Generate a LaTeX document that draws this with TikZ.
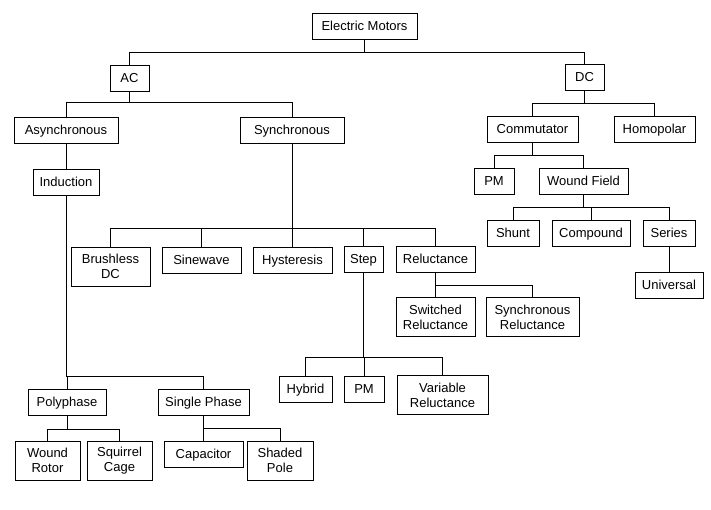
\documentclass[tikz,border=0pt]{standalone}
\usepackage{fontspec}
\setmainfont{Liberation Sans}
\usetikzlibrary{calc}
\tikzset{
  cell/.style={draw, line width=0.9pt, align=center, inner sep=1pt,
    font=\fontsize{13}{15}\selectfont},
  box/.style={cell, minimum height=26pt, text height=9.3pt, text depth=0.6pt},
  tallbox/.style={cell, minimum height=39pt},
  link/.style={line width=0.6pt}
}

\begin{document}
\begin{tikzpicture}[x=1pt, y=-1pt]
\useasboundingbox (0,0) rectangle (711,509);
\node[box, minimum width=105pt] (motors) at (364.5,26) {Electric Motors};
\node[box, minimum width=39pt] (ac) at (129.5,78.5) {AC};
\node[box, minimum width=39pt] (dc) at (584.5,77.5) {DC};
\node[box, minimum width=104pt] (async) at (66,130) {Asynchronous};
\node[box, minimum width=104pt] (sync) at (292,130) {Synchronous};
\node[box, minimum width=66pt] (induct) at (66,182) {Induction};
\node[box, minimum width=91pt] (comm) at (532.5,129.5) {Commutator};
\node[box, minimum width=81pt] (homo) at (654.5,129.5) {Homopolar};
\node[box, minimum width=40pt] (dcpm) at (494,181) {PM};
\node[box, minimum width=89pt] (wfield) at (583.5,181) {Wound Field};
\node[box, minimum width=52pt] (shunt) at (513,233) {Shunt};
\node[box, minimum width=78pt] (compound) at (591,233) {Compound};
\node[box, minimum width=52pt] (series) at (669,233) {Series};
\node[box, minimum width=68pt] (universal) at (669,285) {Universal};
\node[tallbox, minimum width=79pt] (bldc) at (110.5,266.5) {Brushless\\DC};
\node[box, minimum width=79pt] (sinewave) at (201.5,260) {Sinewave};
\node[box, minimum width=79pt] (hyst) at (292.5,260) {Hysteresis};
\node[box, minimum width=39pt] (step) at (363.5,259.5) {Step};
\node[box, minimum width=79pt] (reluct) at (435.5,259) {Reluctance};
\node[tallbox, minimum width=79pt] (swrel) at (435.5,317) {Switched\\Reluctance};
\node[tallbox, minimum width=93pt] (syncrel) at (532.5,317) {Synchronous\\Reluctance};
\node[box, minimum width=53pt] (hybrid) at (305.5,389) {Hybrid};
\node[box, minimum width=40pt] (steppm) at (364,389) {PM};
\node[tallbox, minimum width=91pt] (varrel) at (442.5,395) {Variable\\Reluctance};
\node[box, minimum width=78pt] (poly) at (67,402) {Polyphase};
\node[box, minimum width=91pt] (single) at (203.5,402) {Single Phase};
\node[tallbox, minimum width=65pt] (wrotor) at (47.5,460.5) {Wound\\Rotor};
\node[tallbox, minimum width=65pt] (squirrel) at (119.5,460.5) {Squirrel\\Cage};
\node[box, minimum width=79pt] (capacitor) at (203.5,454) {Capacitor};
\node[tallbox, minimum width=66pt] (shaded) at (280,460.5) {Shaded\\Pole};
% top level
\draw[link] (motors.south) -- ++(0,13) -| (ac.north);
\draw[link] (motors.south) -- ++(0,13) -| (dc.north);
% ac branch
\draw[link] (ac.south) -- ++(0,10) -| (async.north);
\draw[link] (ac.south) -- ++(0,10) -| (sync.north);
\draw[link] (async.south) -- (induct.north);
\draw[link] (sync.south) -- ++(0,85) -| (bldc.north);
\draw[link] (sync.south) -- ++(0,85) -| (sinewave.north);
\draw[link] (sync.south) -- ++(0,85) -| (hyst.north);
\draw[link] (sync.south) -- ++(0,85) -| (step.north);
\draw[link] (sync.south) -- ++(0,85) -| (reluct.north);
\draw[link] (reluct.south) -- ++(0,13) -| (swrel.north);
\draw[link] (reluct.south) -- ++(0,13) -| (syncrel.north);
\draw[link] (step.south) -- ++(0,84) -| (hybrid.north);
\draw[link] (step.south) -- ++(0,84) -| (steppm.north);
\draw[link] (step.south) -- ++(0,84) -| (varrel.north);
\draw[link] (induct.south) -- ++(0,181) -| (poly.north);
\draw[link] (induct.south) -- ++(0,181) -| (single.north);
\draw[link] (poly.south) -- ++(0,14) -| (wrotor.north);
\draw[link] (poly.south) -- ++(0,14) -| (squirrel.north);
\draw[link] (single.south) -- ++(0,13) -| (capacitor.north);
\draw[link] (single.south) -- ++(0,13) -| (shaded.north);
% dc branch
\draw[link] (dc.south) -- ++(0,12) -| (comm.north);
\draw[link] (dc.south) -- ++(0,12) -| (homo.north);
\draw[link] (comm.south) -- ++(0,12) -| (dcpm.north);
\draw[link] (comm.south) -- ++(0,12) -| (wfield.north);
\draw[link] (wfield.south) -- ++(0,13) -| (shunt.north);
\draw[link] (wfield.south) -- ++(0,13) -| (compound.north);
\draw[link] (wfield.south) -- ++(0,13) -| (series.north);
\draw[link] (series.south) -- (universal.north);
\end{tikzpicture}
\end{document}
